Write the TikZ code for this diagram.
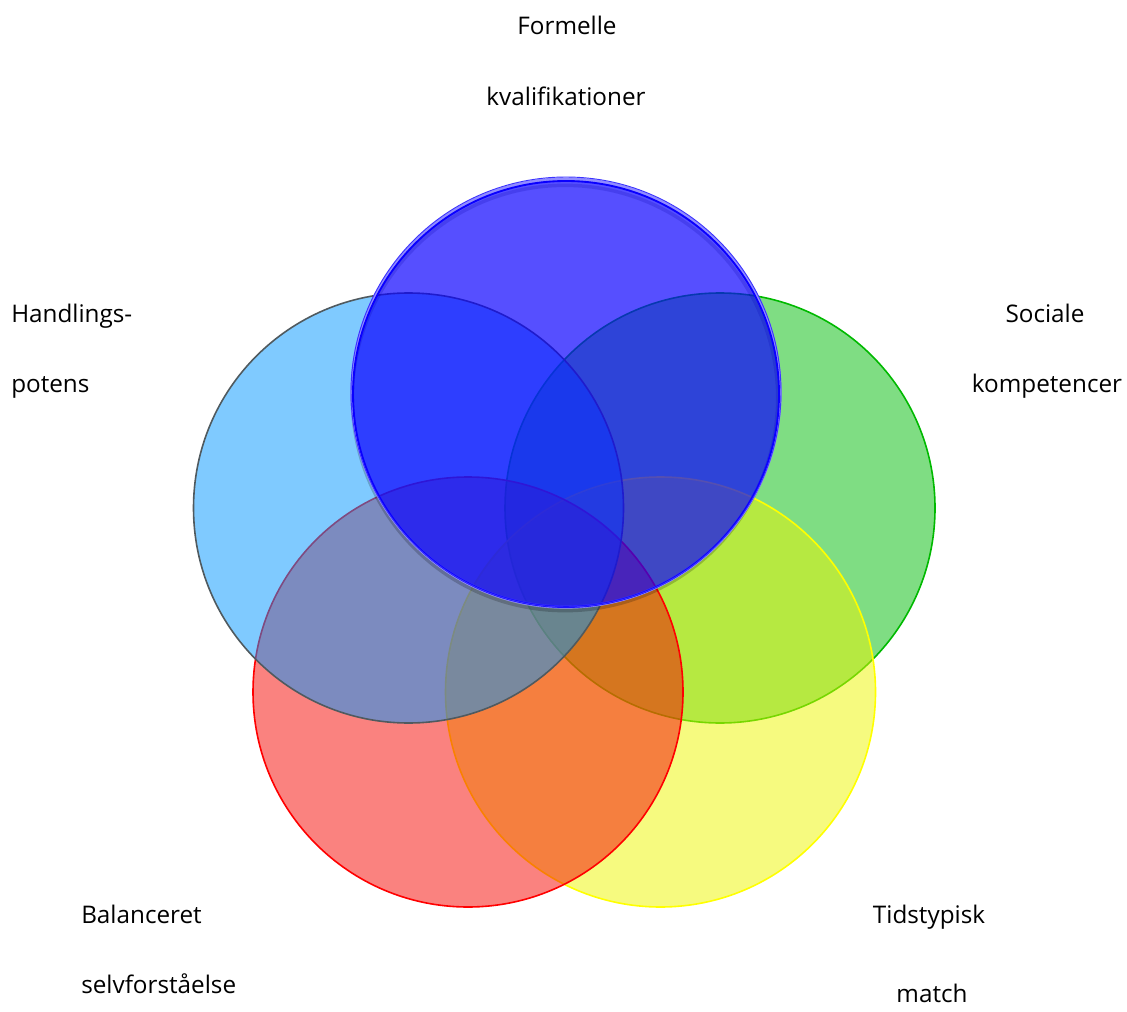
\documentclass[tikz,border=0pt]{standalone}
\usepackage{fontspec}
\setmainfont{Open Sans}
\definecolor{cblue}{RGB}{10,0,255}
\definecolor{clight}{RGB}{0,149,255}
\definecolor{cgreen}{RGB}{0,188,8}
\definecolor{cgreenline}{RGB}{0,185,0}
\definecolor{cred}{RGB}{245,5,0}
\definecolor{credline}{RGB}{255,0,0}
\definecolor{cyellow}{RGB}{238,245,0}
\definecolor{cyellowline}{RGB}{255,255,0}
\definecolor{cgrayline}{RGB}{80,90,95}
\tikzset{
  venn/.style={line width=1.2pt},
  lbl/.style={inner sep=0pt, font=\fontsize{18.2}{22}\selectfont, text=black}
}
\begin{document}
\begin{tikzpicture}[x=0.75pt,y=-0.75pt]
\useasboundingbox (0,0) rectangle (1127,1012);
% circles, bottom to top
\path[venn, fill=cgreen, fill opacity=0.5, draw=cgreenline] (720,508) circle[radius=161.25pt];
\path[venn, fill=cyellow, fill opacity=0.5, draw=cyellowline] (660.5,692) circle[radius=161.25pt];
\path[venn, fill=cred, fill opacity=0.5, draw=credline] (468,692) circle[radius=161.25pt];
\path[venn, fill=clight, fill opacity=0.5, draw=cgrayline] (408.5,508) circle[radius=161.25pt];
% shadow of top circle
\path[draw=black, draw opacity=0.2, line width=2.6pt] (565,398) circle[radius=159.5pt];
\path[draw=cblue!45, line width=2.4pt] (566,393) circle[radius=160.5pt];
\path[fill=cblue, fill opacity=0.69, draw=cblue, line width=1.4pt] (566,394) circle[radius=159.75pt];
\path[draw=cblue!80, line width=0.7pt] (566,392) circle[radius=161.25pt];
% labels
\node[lbl, anchor=base] (f1) at (567,35) {Formelle};
\node[lbl, anchor=base] (f2) at (566,106) {kvalifikationer};
\node[lbl, anchor=base west] (h1) at (11,323) {Handlings-};
\node[lbl, anchor=base west] (h2) at (11,392) {potens};
\node[lbl, anchor=base] (s1) at (1045,323) {Sociale};
\node[lbl, anchor=base] (s2) at (1047,392) {kompetencer};
\node[lbl, anchor=base west] (b1) at (81,923) {Balanceret};
\node[lbl, anchor=base west] (b2) at (81,993) {selvforståelse};
\node[lbl, anchor=base] (t1) at (929,923) {Tidstypisk};
\node[lbl, anchor=base] (t2) at (932,1002) {match};
\end{tikzpicture}
\end{document}
